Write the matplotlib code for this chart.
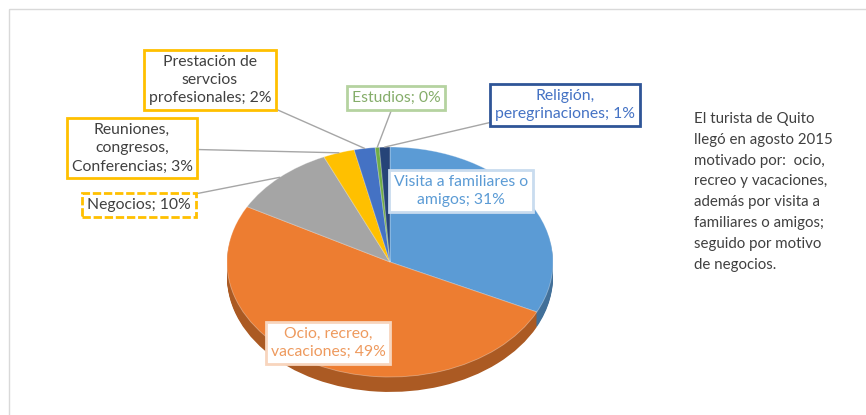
import numpy as np
import matplotlib.pyplot as plt
import matplotlib.colors as mcolors
from matplotlib.patches import Rectangle

plt.rcParams['font.family'] = ['Lato', 'DejaVu Sans']

# Datos: motivo de viaje del turista (Quito, agosto 2015)
motivos = ["Visita a familiares o\namigos", "Ocio, recreo,\nvacaciones", "Negocios",
           "Reuniones,\ncongresos,\nConferencias", "Prestación de\nservcios\nprofesionales",
           "Estudios", "Religión,\nperegrinaciones"]
porcentajes = [31, 49, 10, 3, 2, 0.4, 1]
etiquetas_pct = ["31%", "49%", "10%", "3%", "2%", "0%", "1%"]
colores = ["#5B9BD5", "#ED7D31", "#A5A5A5", "#FFC000", "#4472C4", "#70AD47", "#264478"]

texto_lateral = ("El turista de Quito\nllegó en agosto 2015\nmotivado por:  ocio,\n"
                 "recreo y vacaciones,\nademás por visita a\nfamiliares o amigos;\n"
                 "seguido por motivo\nde negocios.")

W, H = 866, 415
fig = plt.figure(figsize=(W / 100, H / 100), dpi=100)

# eje del pastel (elipse para simular 3D)
cx, cy, rx, ry, prof = 390, 262, 163, 115, 0.13
ax = fig.add_axes([(cx - rx) / W, (H - (cy + ry * (1 + prof))) / H,
                   2 * rx / W, ry * (2 + prof) / H])

oscuros = [tuple(c * 0.72 for c in mcolors.to_rgb(col)) for col in colores]
for k in range(14, 0, -1):
    ax.pie(porcentajes, colors=oscuros, startangle=90, counterclock=False,
           center=(0, -prof * k / 14), wedgeprops=dict(linewidth=0))
wedges, _ = ax.pie(porcentajes, colors=colores, startangle=90, counterclock=False,
                   wedgeprops=dict(linewidth=0.6, edgecolor=(1, 1, 1, 0.35)))
ax.set_aspect('auto')
ax.set_xlim(-1, 1)
ax.set_ylim(-1 - prof, 1)
ax.axis('off')

# capa superior en pixeles para etiquetas
ov = fig.add_axes([0, 0, 1, 1], zorder=5)
ov.set_xlim(0, W)
ov.set_ylim(H, 0)
ov.axis('off')
ov.patch.set_alpha(0)
ov.add_patch(Rectangle((9, 9), 880, 430, fill=False, edgecolor="#D9D9D9", lw=1))

# posiciones de etiquetas: (x, y, color texto, borde, estilo, radio de la guía)
etiq = [
    (461, 191, "#5B9BD5", "#C9DCEF", "solid", None),
    (328, 343, "#EE9A5E", "#F8D5BD", "solid", None),
    (139, 205, "#404040", "#FFC000", (0, (3, 1)), 1.0),
    (132, 148, "#404040", "#FFC000", "solid", 1.0),
    (210, 80, "#404040", "#FFC000", "solid", 1.0),
    (396, 98, "#85AD6A", "#B5D3A0", "solid", 1.0),
    (565, 105, "#4472C4", "#2F5597", "solid", 1.0),
]

fs = 11.3
for w, nom, pct, (x, y, tc, bc, ls, r) in zip(wedges, motivos, etiquetas_pct, etiq):
    txt = f"{nom}; {pct}"
    bbox = dict(boxstyle="square,pad=0.3", fc="white", ec=bc, lw=2, ls=ls)
    if r is None:
        ov.text(x, y, txt, ha="center", va="center", fontsize=fs, color=tc,
                linespacing=1.4, bbox=bbox, zorder=6)
    else:
        ang = np.deg2rad((w.theta1 + w.theta2) / 2)
        ov.annotate(txt, xy=(r * np.cos(ang), r * np.sin(ang)), xycoords=ax.transData,
                    xytext=(x, y), textcoords="data", ha="center", va="center",
                    fontsize=fs, color=tc, linespacing=1.4, bbox=bbox,
                    arrowprops=dict(arrowstyle="-", color="#A6A6A6", lw=1,
                                    shrinkA=0, shrinkB=0),
                    annotation_clip=False, zorder=6)

ov.text(694, 112, texto_lateral, ha="left", va="top", fontsize=10.8,
        color="#404040", linespacing=1.62)

fig.savefig("out.png", dpi=100)
